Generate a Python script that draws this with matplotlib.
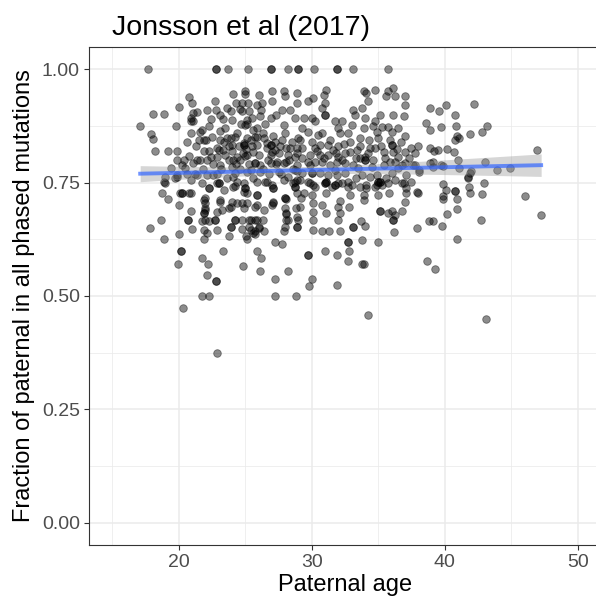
import numpy as np
import matplotlib.pyplot as plt

plt.rcParams['font.family'] = ['Liberation Sans', 'DejaVu Sans']

# (paternal age, fraction of phased de novo mutations that are paternal)
row_one = [17.7, 22.8, 22.8, 23.7, 25.2, 26.9, 26.9, 28.2, 29.0, 29.0, 30.2, 31.9, 31.9, 33.1, 35.7]

upper_pts = [
    (20.8, 0.938), (21.0, 0.925), (20.0, 0.917), (18.05, 0.902), (18.9, 0.902), (17.1, 0.875),
    (19.8, 0.875), (17.9, 0.858), (18.1, 0.846), (18.2, 0.819), (19.2, 0.819), (19.85, 0.819),
    (19.9, 0.80), (20.75, 0.809), (20.95, 0.859), (21.05, 0.903), (20.9, 0.885), (21.1, 0.885),
    (21.75, 0.865), (22.1, 0.91), (22.7, 0.93), (22.8, 0.91), (22.25, 0.875), (22.05, 0.844),
    (21.9, 0.819), (21.6, 0.80), (22.1, 0.80), (22.9, 0.807), (23.1, 0.863), (23.1, 0.844),
    (23.1, 0.90), (23.3, 0.89), (23.9, 0.907), (24.0, 0.888), (24.1, 0.945), (23.6, 0.848),
    (24.2, 0.85), (23.75, 0.83), (23.0, 0.822), (24.75, 0.925), (25.0, 0.951), (24.97, 0.945),
    (25.2, 0.925), (24.75, 0.907), (25.25, 0.907), (25.1, 0.888), (25.1, 0.88), (25.6, 0.866),
    (25.75, 0.85), (24.9, 0.833), (24.9, 0.833), (25.05, 0.825), (24.95, 0.809), (24.1, 0.80),
    (25.9, 0.921), (20.9, 0.892), (21.6, 0.862), (21.9, 0.844), (23.3, 0.822), (21.1, 0.793),
    (23.9, 0.848), (24.0, 0.833), (24.6, 0.913), (25.0, 0.877), (25.1, 0.848), (25.1, 0.811),
    (24.4, 0.807), (25.5, 0.892), (25.9, 0.87), (25.9, 0.85), (25.9, 0.833), (25.6, 0.818),
    (26.0, 0.943), (26.25, 0.925), (26.1, 0.896), (26.4, 0.848), (26.6, 0.826), (26.9, 0.811),
    (26.9, 0.892), (27.0, 0.951), (27.0, 0.929), (27.1, 0.852), (27.4, 0.796), (27.75, 0.91),
    (27.9, 0.877), (27.9, 0.951), (28.0, 0.94), (28.1, 0.826), (28.2, 0.81), (28.75, 0.892),
    (28.9, 0.947), (28.9, 0.925), (29.0, 0.848), (28.9, 0.826), (28.75, 0.807),
    (29.75, 0.929), (30.1, 0.936), (30.9, 0.943), (31.05, 0.955), (31.0, 0.925), (30.75, 0.914),
    (31.0, 0.90), (31.0, 0.90), (30.25, 0.885), (29.4, 0.892), (30.0, 0.892), (29.25, 0.87),
    (29.75, 0.862), (30.75, 0.859), (29.1, 0.844), (30.0, 0.84), (30.6, 0.833), (31.25, 0.833),
    (31.75, 0.885), (32.25, 0.885), (32.0, 0.83), (32.1, 0.859), (32.75, 0.859), (33.0, 0.877),
    (33.25, 0.90), (33.1, 0.91), (33.75, 0.914), (33.9, 0.951), (34.1, 0.947), (34.25, 0.929),
    (34.75, 0.955), (33.9, 0.87), (34.0, 0.892), (33.6, 0.848), (34.75, 0.885), (34.9, 0.862),
    (35.25, 0.873), (35.1, 0.90), (35.75, 0.873), (36.0, 0.862), (36.1, 0.90), (35.6, 0.94),
    (35.75, 0.951), (36.25, 0.94), (36.1, 0.958), (37.0, 0.94), (37.0, 0.921), (36.95, 0.896),
    (37.0, 0.852), (36.0, 0.833), (36.0, 0.833), (36.1, 0.818), (35.0, 0.848), (34.75, 0.826),
    (34.0, 0.807), (33.6, 0.804), (32.9, 0.818), (32.0, 0.807), (31.25, 0.811), (30.6, 0.811),
    (29.9, 0.811), (29.75, 0.796), (37.0, 0.818), (37.5, 0.826), (38.0, 0.83), (37.75, 0.815),
    (38.9, 0.914), (39.6, 0.907), (38.6, 0.881), (38.9, 0.866), (39.75, 0.873), (38.9, 0.826),
    (39.5, 0.822), (38.1, 0.778), (36.75, 0.789), (39.75, 0.789), (39.1, 0.796),
    (40.1, 0.921), (40.8, 0.90), (42.2, 0.924), (40.85, 0.875), (41.9, 0.857), (42.8, 0.862),
    (43.2, 0.875), (41.1, 0.849), (40.8, 0.843), (40.9, 0.853), (39.2, 0.819), (40.2, 0.824),
    (40.7, 0.818), (41.0, 0.80), (43.0, 0.796), (46.9, 0.822), (38.9, 0.794), (37.75, 0.789),
    (38.1, 0.774), (39.1, 0.785), (39.9, 0.787), (41.1, 0.782), (41.95, 0.776), (43.9, 0.778),
    (44.9, 0.782), (41.75, 0.763),
]

core_pts = [
    (18.9, 0.752), (19.75, 0.76), (20.25, 0.789), (19.9, 0.767), (23.1, 0.789), (24.0, 0.785),
    (24.25, 0.771), (24.9, 0.749), (25.1, 0.774), (25.75, 0.793), (25.75, 0.793), (26.1, 0.774),
    (26.5, 0.752), (26.9, 0.793), (27.0, 0.745), (27.5, 0.774), (27.9, 0.793), (28.25, 0.763),
    (28.6, 0.749), (28.9, 0.789), (28.9, 0.776), (27.25, 0.822), (26.9, 0.833), (26.9, 0.833),
    (28.75, 0.778), (29.1, 0.756), (29.9, 0.789), (30.0, 0.771), (30.0, 0.771), (29.75, 0.752),
    (30.75, 0.796), (30.6, 0.771), (31.1, 0.752), (31.1, 0.752), (31.25, 0.767), (31.9, 0.796),
    (31.9, 0.767), (32.0, 0.749), (32.5, 0.771), (32.75, 0.752), (33.1, 0.789), (33.75, 0.767),
    (34.0, 0.80), (34.0, 0.80), (34.1, 0.745), (34.9, 0.767), (35.0, 0.752), (35.0, 0.752),
    (35.25, 0.745), (35.9, 0.796), (36.0, 0.771), (36.25, 0.796), (37.0, 0.793), (37.1, 0.767),
    (36.75, 0.749), (37.5, 0.752), (19.0, 0.763), (19.85, 0.763), (22.1, 0.767), (24.1, 0.763),
    (41.9, 0.771), (41.75, 0.76), (39.9, 0.747), (42.95, 0.75), (41.8, 0.741),
    (28.75, 0.741), (28.75, 0.741), (29.4, 0.727), (29.9, 0.749), (30.25, 0.741), (31.0, 0.749),
    (31.0, 0.749), (31.1, 0.727), (31.75, 0.745), (31.75, 0.745), (33.0, 0.745), (33.6, 0.741),
    (35.1, 0.752), (35.1, 0.752), (35.75, 0.75), (34.75, 0.741), (34.1, 0.738), (37.1, 0.738),
    (34.9, 0.745), (32.75, 0.741), (32.25, 0.75), (30.0, 0.723),
    (20.25, 0.728), (20.25, 0.728), (20.9, 0.728), (22.25, 0.738), (22.25, 0.738), (23.0, 0.75),
    (23.0, 0.75), (24.1, 0.741), (25.0, 0.738), (25.0, 0.738), (25.9, 0.723), (26.6, 0.752),
    (27.1, 0.738), (27.1, 0.738), (28.0, 0.716), (28.0, 0.716), (28.75, 0.752), (28.9, 0.727),
    (21.75, 0.75), (19.0, 0.75), (22.9, 0.749), (23.4, 0.734), (24.2, 0.743), (24.9, 0.73),
    (22.9, 0.826), (24.5, 0.83), (24.9, 0.837), (25.4, 0.844), (26.6, 0.837), (27.0, 0.818),
    (27.5, 0.815), (27.75, 0.844), (28.4, 0.826), (28.9, 0.815), (28.1, 0.796), (26.1, 0.789),
    (25.4, 0.778), (24.6, 0.80), (23.5, 0.811), (22.4, 0.807), (21.4, 0.80), (20.5, 0.782),
    (19.4, 0.782), (23.6, 0.76), (22.6, 0.767), (21.4, 0.767), (20.9, 0.756), (24.4, 0.752),
    (25.9, 0.752), (27.9, 0.756), (28.9, 0.756),
    (29.25, 0.826), (30.25, 0.826), (31.6, 0.822), (32.5, 0.815), (33.4, 0.822), (34.4, 0.826),
    (35.4, 0.818), (36.5, 0.807), (29.25, 0.804), (30.25, 0.796), (31.4, 0.789), (32.5, 0.793),
    (33.5, 0.782), (34.5, 0.785), (35.4, 0.789), (36.5, 0.782), (37.6, 0.789), (29.25, 0.771),
    (31.75, 0.778), (33.3, 0.76), (34.4, 0.763), (35.6, 0.76), (36.25, 0.756), (30.1, 0.745),
    (31.5, 0.741),
    (21.3, 0.83), (21.5, 0.845), (21.8, 0.78), (22.3, 0.82), (22.5, 0.85), (22.6, 0.79),
    (22.9, 0.77), (23.2, 0.78), (23.4, 0.84), (23.5, 0.87), (23.8, 0.80), (24.0, 0.82),
    (24.3, 0.79), (24.4, 0.86), (24.6, 0.78), (24.7, 0.88), (24.8, 0.815), (21.2, 0.77),
    (20.6, 0.77), (20.4, 0.80), (20.6, 0.84), (21.4, 0.905), (22.4, 0.89), (23.6, 0.915),
    (24.3, 0.925), (25.3, 0.79), (25.5, 0.83), (25.6, 0.76), (26.0, 0.81), (26.3, 0.78),
    (26.3, 0.86), (26.7, 0.80), (26.8, 0.77), (27.2, 0.84), (27.3, 0.79), (27.6, 0.83),
    (27.7, 0.77), (28.0, 0.86), (28.3, 0.80), (28.5, 0.84), (28.6, 0.78), (26.5, 0.88),
    (27.3, 0.90), (28.4, 0.91), (26.2, 0.91),
    (30.4, 0.82), (30.9, 0.805), (31.4, 0.845), (31.8, 0.815), (32.3, 0.80), (32.4, 0.835),
    (32.9, 0.84), (33.3, 0.805), (33.6, 0.83), (34.2, 0.815), (34.3, 0.845), (34.6, 0.80),
    (35.2, 0.83), (35.5, 0.805), (35.9, 0.845), (36.4, 0.825), (36.7, 0.84), (37.3, 0.805),
    (30.5, 0.855), (32.0, 0.87), (34.6, 0.875), (36.5, 0.87),
]

lower_pts = [
    (38.0, 0.728), (40.1, 0.734), (40.75, 0.732), (40.75, 0.732), (40.95, 0.714), (39.9, 0.721),
    (39.85, 0.714), (41.9, 0.728), (42.8, 0.724), (46.0, 0.721), (47.25, 0.679), (40.9, 0.692),
    (40.15, 0.68), (38.8, 0.666), (39.1, 0.666), (37.9, 0.65), (39.8, 0.654), (42.7, 0.667),
    (40.95, 0.625), (38.7, 0.577), (39.25, 0.56), (43.1, 0.449),
    (34.2, 0.458), (27.25, 0.50), (28.8, 0.50), (27.25, 0.538), (30.0, 0.538), (29.8, 0.521),
    (31.9, 0.524), (26.1, 0.556), (28.2, 0.556), (25.9, 0.60), (26.2, 0.583), (29.75, 0.59),
    (29.75, 0.59), (31.0, 0.60), (31.9, 0.59), (32.7, 0.577), (32.8, 0.60), (33.75, 0.571),
    (33.95, 0.571), (32.7, 0.618), (32.7, 0.618), (33.8, 0.624), (35.0, 0.619), (27.2, 0.619),
    (27.75, 0.615), (25.6, 0.638), (26.4, 0.643), (27.9, 0.643), (28.9, 0.653), (30.1, 0.646),
    (30.8, 0.643), (31.3, 0.643), (32.1, 0.643), (33.1, 0.652), (33.1, 0.652), (34.0, 0.655),
    (33.7, 0.666), (36.2, 0.641), (25.4, 0.668), (25.9, 0.668), (26.3, 0.668), (25.75, 0.643),
    (30.1, 0.668), (32.0, 0.668), (29.0, 0.668), (28.2, 0.668), (35.1, 0.688), (35.1, 0.688),
    (35.7, 0.683), (36.1, 0.668), (36.1, 0.668), (36.8, 0.688), (36.0, 0.688), (32.1, 0.71),
    (32.0, 0.697), (32.1, 0.683), (32.8, 0.697), (31.1, 0.683), (30.1, 0.705), (30.1, 0.686),
    (30.8, 0.701), (28.8, 0.694), (28.0, 0.694), (28.05, 0.68), (29.1, 0.697), (29.2, 0.716),
    (28.05, 0.714), (27.0, 0.701), (27.1, 0.708), (33.9, 0.712), (33.9, 0.723), (32.9, 0.723),
    (35.0, 0.723), (35.8, 0.727), (36.9, 0.75), (37.1, 0.727), (37.0, 0.708), (37.9, 0.73),
    (26.0, 0.652), (36.25, 0.679),
    (22.9, 0.375), (20.3, 0.474), (21.75, 0.50), (22.25, 0.50), (22.8, 0.533), (22.8, 0.533),
    (22.1, 0.546), (19.95, 0.571), (21.75, 0.583), (22.2, 0.571), (24.8, 0.566), (20.2, 0.60),
    (20.2, 0.60), (23.3, 0.60), (18.9, 0.625), (20.05, 0.637), (17.8, 0.65), (18.7, 0.667),
    (20.7, 0.667), (20.7, 0.667), (21.0, 0.648), (21.9, 0.625), (21.9, 0.646), (22.1, 0.638),
    (22.9, 0.646), (22.75, 0.668), (22.75, 0.668), (23.75, 0.632), (24.25, 0.668), (24.25, 0.668),
    (23.9, 0.652), (25.05, 0.632), (25.1, 0.625), (24.75, 0.648), (25.3, 0.652), (25.75, 0.637),
    (21.75, 0.666), (22.25, 0.666), (20.05, 0.701), (20.9, 0.688), (22.0, 0.69), (22.0, 0.705),
    (22.9, 0.686), (23.1, 0.708), (23.8, 0.694), (24.0, 0.708), (24.75, 0.705), (25.1, 0.727),
    (25.9, 0.723), (18.75, 0.727), (19.2, 0.713), (20.1, 0.728), (20.8, 0.727), (22.0, 0.716),
    (25.75, 0.697), (21.9, 0.712), (22.0, 0.694), (21.9, 0.683), (21.9, 0.683), (22.0, 0.668),
    (23.1, 0.712), (23.25, 0.69), (23.9, 0.697), (24.4, 0.705), (24.9, 0.694), (25.1, 0.705),
    (25.9, 0.70), (26.4, 0.69), (27.1, 0.705), (24.75, 0.668), (25.25, 0.668), (25.75, 0.668),
    (25.4, 0.646), (26.0, 0.65), (23.9, 0.653), (28.1, 0.683), (28.0, 0.653), (28.1, 0.668),
    (28.9, 0.675), (28.9, 0.653),
]

pts = [(a, 1.0) for a in row_one] + upper_pts + core_pts + lower_pts
age = np.array([p[0] for p in pts])
frac = np.array([p[1] for p in pts])

fig = plt.figure(figsize=(5.96, 6.02), dpi=100)
ax = fig.add_axes([89 / 596, (602 - 545.3) / 602, (601 - 89) / 596, (545.3 - 46.6) / 602])

ax.scatter(age, frac, s=30, color='black', alpha=0.45, linewidths=0.6,
           edgecolors=(0, 0, 0, 0.6), zorder=3)

# linear fit with 95% confidence band
slope, icept = np.polyfit(age, frac, 1)
xs = np.linspace(age.min(), age.max(), 100)
ys = icept + slope * xs
n = len(age)
resid = frac - (icept + slope * age)
s = np.sqrt(np.sum(resid ** 2) / (n - 2))
se = s * np.sqrt(1 / n + (xs - age.mean()) ** 2 / np.sum((age - age.mean()) ** 2))
ax.fill_between(xs, ys - 1.96 * se, ys + 1.96 * se, color='#999999', alpha=0.4,
                linewidth=0, zorder=4)
ax.plot(xs, ys, color='#3366FF', lw=2.8, alpha=0.7, zorder=5)

ax.set_xlim(13.25, 51.75)
ax.set_ylim(-0.05, 1.05)
ax.set_xticks([20, 30, 40, 50])
ax.set_xticks([15, 25, 35, 45], minor=True)
ax.set_yticks([0, 0.25, 0.5, 0.75, 1.0])
ax.set_yticklabels(['0.00', '0.25', '0.50', '0.75', '1.00'])
ax.set_yticks([0.125, 0.375, 0.625, 0.875], minor=True)
ax.grid(which='major', color='#EBEBEB', lw=1.1, zorder=0)
ax.grid(which='minor', color='#EBEBEB', lw=0.55, zorder=0)
ax.set_axisbelow(True)
ax.tick_params(which='major', length=3.5, width=0.8, color='#333333',
               labelsize=14, labelcolor='#4D4D4D', pad=3)
ax.tick_params(which='minor', length=0)
for sp in ax.spines.values():
    sp.set_color('#333333')
    sp.set_linewidth(0.8)

ax.set_xlabel('Paternal age', fontsize=17, labelpad=2)
ax.set_ylabel('Fraction of paternal in all phased mutations', fontsize=17, labelpad=5)
ax.set_title('Jonsson et al (2017)', fontsize=20.5, loc='left', x=0.045, pad=8)

fig.savefig('out.png', dpi=100)
